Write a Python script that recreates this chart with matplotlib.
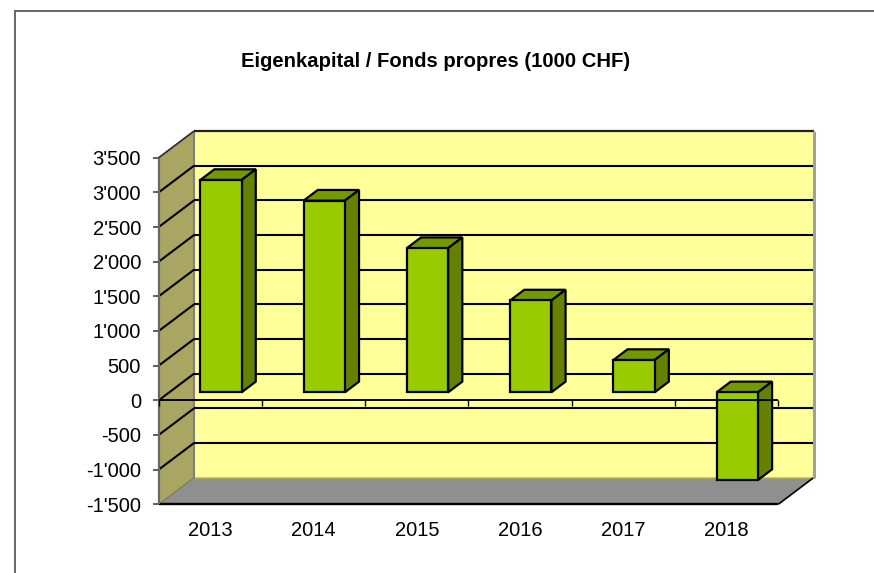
import numpy as np
import matplotlib
matplotlib.use('Agg')
import matplotlib.pyplot as plt
from matplotlib.patches import Polygon

years = ['2013', '2014', '2015', '2016', '2017', '2018']
equity = [3063, 2765, 2080, 1325, 466, -1265]
y_ticks = [-1500, -1000, -500, 0, 500, 1000, 1500, 2000, 2500, 3000, 3500]
y_labels = ["-1'500", "-1'000", "-500", "0", "500", "1'000", "1'500", "2'000", "2'500", "3'000", "3'500"]

W, H = 874, 573
plt.rcParams['font.family'] = ['Liberation Sans', 'DejaVu Sans']
fig = plt.figure(figsize=(W / 100, H / 100), dpi=100)
fig.patch.set_facecolor('white')

# front plane of the fake 3d box
L, R, T, B = 158.7, 778.3, 157.7, 504.3
ax = fig.add_axes([L / W, 1 - B / H, (R - L) / W, (B - T) / H])
ax.set_xlim(0, 6)
ax.set_ylim(-1500, 3500)
ax.patch.set_visible(False)
for s in ax.spines.values():
    s.set_visible(False)

# depth of the box in data units
DX = 35.4 * 6 / (R - L)
DY = 26.7 * 5000 / (B - T)


def proj(x, y, d):
    # d = 0 front plane, d = 1 back wall
    return (x + DX * d, y + DY * d)


def face(pts, color, z, lw=1.0, ec='black'):
    ax.add_patch(Polygon(pts, closed=True, facecolor=color, edgecolor=ec, lw=lw,
                         zorder=z, clip_on=False, joinstyle='miter'))


def seg(a, b, color='black', lw=1.5, z=2):
    ax.plot([a[0], b[0]], [a[1], b[1]], color=color, lw=lw, zorder=z, clip_on=False,
            solid_capstyle='butt')


ymin, ymax = y_ticks[0], y_ticks[-1]
# back wall, side wall, floor
face([proj(0, ymin, 1), proj(6, ymin, 1), proj(6, ymax, 1), proj(0, ymax, 1)], '#ffff99', 1, 0)
face([proj(0, ymin, 0), proj(0, ymin, 1), proj(0, ymax, 1), proj(0, ymax, 0)], '#a9a563', 1, 0)
face([proj(0, ymin, 0), proj(6, ymin, 0), proj(6, ymin, 1), proj(0, ymin, 1)], '#8f8f8f', 1.5, 0)

# gridlines on side wall and back wall
for v in y_ticks[1:-1]:
    seg(proj(0, v, 0), proj(0, v, 1))
    seg(proj(0, v, 1), proj(6, v, 1))
seg(proj(0, ymax, 0), proj(0, ymax, 1), '#333333', 1.3)
seg(proj(0, ymax, 1), proj(6, ymax, 1), '#222222', 1.6)
seg(proj(0, ymin, 1), proj(0, ymax, 1), '#808080', 1.5, 1.8)
seg(proj(6, ymin, 1), proj(6, ymax, 1), '#a0a0a0', 2.2, 2.5)
seg(proj(0, ymin, 1), proj(6, ymin, 1), '#a6a66a', 1.0, 1.8)
seg(proj(0, ymin, 0), proj(0, ymin, 1), '#777755', 0.8, 2)
seg((0, ymin), (6, ymin), 'black', 1.7)
seg((6, ymin), proj(6, ymin, 1), 'black', 1.2)
seg((0, ymin), (0, ymax), '#666666', 1.6)

# bars: front at depth .3, back at depth .7, floating on the zero plane
d0, d1 = 0.3, 0.7
bw = 0.4
for i, v in enumerate(equity):
    xl = i + 0.5 - bw / 2
    xr = i + 0.5 + bw / 2
    lo, hi = min(v, 0), max(v, 0)
    lw = 1.6
    face([proj(xl, lo, d0), proj(xr, lo, d0), proj(xr, hi, d0), proj(xl, hi, d0)], '#99cc00', 4, lw)
    face([proj(xl, hi, d0), proj(xr, hi, d0), proj(xr, hi, d1), proj(xl, hi, d1)], '#739900', 3, lw)
    face([proj(xr, lo, d0), proj(xr, lo, d1), proj(xr, hi, d1), proj(xr, hi, d0)], '#668000', 3, lw)

# axis line at zero with ticks
seg((0, 0), (6, 0), 'black', 1.4, 5)
for i in range(0, 7):
    seg((i, 0), (i, -85), 'black', 1.0, 5)

ax.set_yticks(y_ticks)
ax.set_yticklabels(y_labels, fontsize=14.5, color='black')
ax.tick_params(axis='y', length=4.2, width=1.2, color='#444444', pad=8.5)
ax.set_xticks(np.arange(6) + 0.5)
ax.set_xticklabels(years, fontsize=14.5, color='black')
ax.tick_params(axis='x', length=0, pad=12)

fig.text(435.5 / W, 1 - 61.5 / H, 'Eigenkapital / Fonds propres (1000 CHF)', ha='center', va='center',
         fontsize=14.6, fontweight='bold', color='black')

# outer chart border, top and left only visible
fig.add_artist(plt.Line2D([15 / W, 15 / W], [0, 1 - 10.5 / H], color='#666666', lw=1.4))
fig.add_artist(plt.Line2D([15 / W, 1], [1 - 10.5 / H, 1 - 10.5 / H], color='#666666', lw=1.4))

fig.savefig('out.png', dpi=100)
